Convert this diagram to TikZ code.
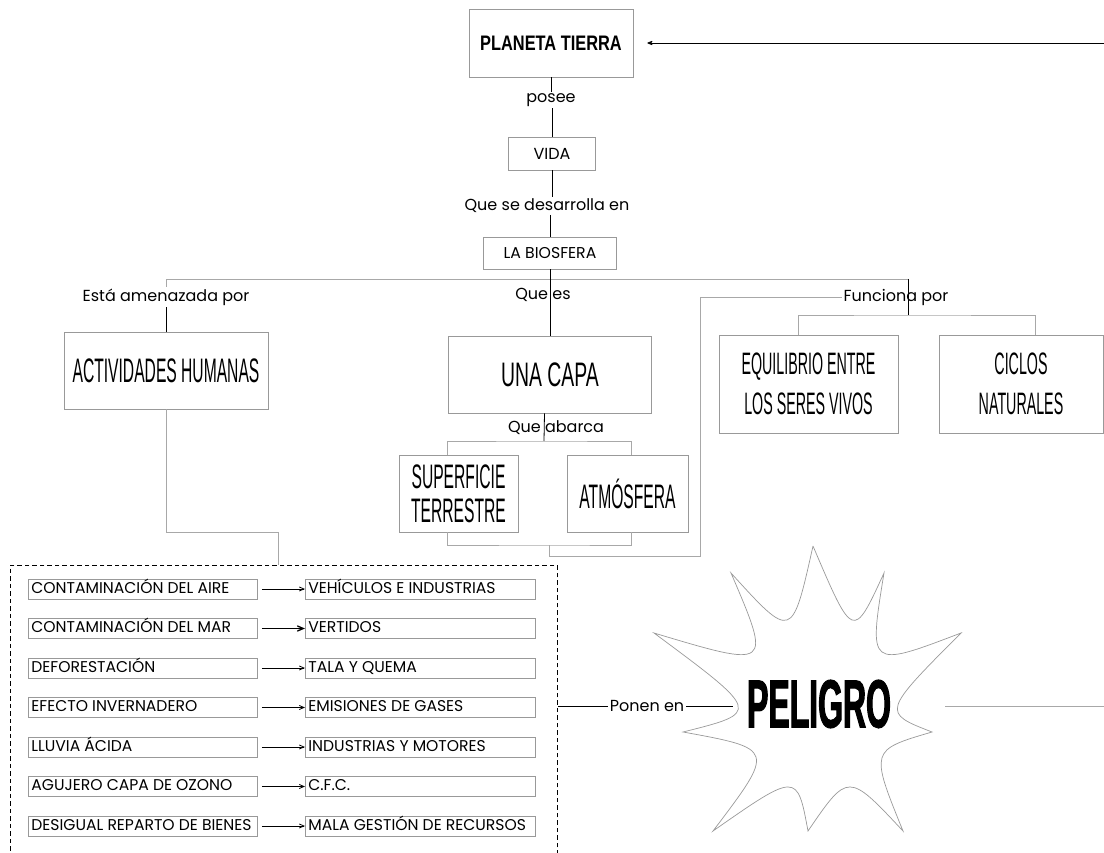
\documentclass[tikz,border=0pt]{standalone}
\usepackage{fontspec}
\usepackage{tikz}
\usetikzlibrary{arrows}
\usetikzlibrary{calc}
\setmainfont{Poppins}
\newfontfamily\condfont[FakeStretch=0.46]{Liberation Sans}
\newfontfamily\capafont[FakeStretch=0.57]{Liberation Sans}
\newfontfamily\titlefont[FakeStretch=0.78]{Liberation Sans}
\newfontfamily\bigfont[FakeStretch=0.47,FakeBold=1.5]{Liberation Sans}
\definecolor{mgray}{rgb}{0.6, 0.6, 0.6}
\definecolor{lgray}{rgb}{0.66, 0.66, 0.66}
\tikzset{box/.style = {draw = mgray, line width = 0.8pt, align = center, inner sep = 0}}
\tikzset{big/.style = {box, font = \condfont\fontsize{34}{34}\selectfont}}
\tikzset{lbl/.style = {font = \fontsize{16}{19}\selectfont, inner sep = 1.5pt}}
\tikzset{item/.style = {draw = mgray, line width = 0.8pt, anchor = west, inner xsep = 3pt, inner ysep = 0pt,
    text height = 11.5pt, text depth = 3pt, minimum height = 20pt,
    font = \fontsize{15.6}{18}\selectfont}}
\tikzset{link/.style = {lgray, line width = 0.8pt}}

\begin{document}
\begin{tikzpicture}[x=1pt, y=-1pt, line width=0.8pt]
    \clip (0, 0) rectangle (1104, 853);
    % chain at the top
    \node [box, minimum width=164pt, minimum height=68pt, font={\titlefont\bfseries\fontsize{21}{25}\selectfont}] (planeta) at (551, 43) {PLANETA TIERRA};
    \node [lbl] (posee) at (551, 100) {posee};
    \node [box, minimum width=87pt, minimum height=33pt, font=\fontsize{16}{19}\selectfont] (vida) at (552, 153.5) {VIDA};
    \node [lbl] (desarrolla) at (547, 206) {Que se desarrolla en};
    \node [box, minimum width=133pt, minimum height=32pt, font=\fontsize{15.7}{19}\selectfont] (biosfera) at (550, 253) {LA BIOSFERA};
    \draw (planeta.south) -- (planeta.south |- posee.north);
    \draw (posee.south -| vida.north) -- (vida.north);
    \draw (vida.south) -- (vida.south |- desarrolla.north);
    \draw (desarrolla.south -| biosfera.north) -- (biosfera.north);

    % three branches
    \node [lbl] (amenazada) at (166, 297) {Está amenazada por};
    \node [lbl] (quees) at (543, 295) {Que es};
    \node [lbl] (funciona) at (896, 297) {Funciona por};
    \node [big, minimum width=204pt, minimum height=77pt] (actividades) at (166, 370.5) {ACTIVIDADES HUMANAS};
    \node [big, minimum width=203pt, minimum height=77pt, font={\capafont\fontsize{34}{34}\selectfont}] (capa) at (550, 374.5) {UNA CAPA};
    \node [box, minimum width=179pt, minimum height=98pt, font={\condfont\fontsize{31}{40}\selectfont}] (equilibrio) at (808.5, 384) {EQUILIBRIO ENTRE\\LOS SERES VIVOS};
    \node [box, minimum width=164pt, minimum height=98pt, font={\condfont\fontsize{31}{40}\selectfont}] (ciclos) at (1021, 384) {CICLOS\\NATURALES};
    \coordinate (fork) at (908, 279);
    \coordinate (fork2) at (908, 315);
    \draw [link] (amenazada.north) |- (fork);
    \draw (fork) -- (fork2);
    \draw (amenazada.south) -- (actividades.north);
    \draw (biosfera.south) -- (biosfera.south |- capa.north);
    \draw [link] ([xshift=-10pt]equilibrio.north) |- (fork2) -| ([xshift=14pt]ciclos.north);

    % what the layer covers
    \node [lbl] (abarca) at (556, 428) {Que abarca};
    \node [big, minimum width=119pt, minimum height=77pt] (superficie) at (458.5, 493.5) {SUPERFICIE\\TERRESTRE};
    \node [big, minimum width=121pt, minimum height=77pt] (atmosfera) at (627.5, 493.5) {\raisebox{-4pt}{ATMÓSFERA}};
    \coordinate (abarcafork) at (544, 441);
    \coordinate (capaback) at (549, 545);
    \coordinate (backcorner) at (700, 556);
    \draw ([xshift=-5.5pt]capa.south) -- (abarcafork);
    \draw [link] ([xshift=-11pt]superficie.north) |- (abarcafork) -| ([xshift=3.5pt]atmosfera.north);
    \draw [link] ([xshift=-11pt]superficie.south) |- (capaback) -| ([xshift=3.5pt]atmosfera.south);
    \draw [link] (capaback) |- (backcorner) |- (funciona.west);

    % list of threats
    \node [draw, dashed, dash pattern=on 4.5pt off 3pt, minimum width=547pt, minimum height=305pt, anchor=north west, inner sep=0] (listbox) at (10, 565) {};
    \coordinate (listbend) at (166, 532);
    \draw [link] (actividades.south) -- (listbend) -| (listbox.north -| 278, 0);
    \foreach \i/\w/\cause/\source in {1/0.8/{CONTAMINACIÓN DEL AIRE}/{VEHÍCULOS E INDUSTRIAS},
        2/1.3/{CONTAMINACIÓN DEL MAR}/{VERTIDOS},
        3/0.8/{DEFORESTACIÓN}/{TALA Y QUEMA},
        4/0.8/{EFECTO INVERNADERO}/{EMISIONES DE GASES},
        5/0.8/{LLUVIA ÁCIDA}/{INDUSTRIAS Y MOTORES},
        6/0.8/{AGUJERO CAPA DE OZONO}/{C.F.C.},
        7/0.8/{DESIGUAL REPARTO DE BIENES}/{MALA GESTIÓN DE RECURSOS}}{
      \node [item] (c\i) at (28, {549.5 + 39.5*\i}) {\makebox[223pt][l]{\cause}};
      \node [item] (r\i) at (305, {549.5 + 39.5*\i}) {\makebox[224pt][l]{\source}};
      \draw [-angle 45, line width=\w pt, shorten <=4pt] (c\i) -- (r\i);
    }

    % danger
    \coordinate (t0) at (813, 546);
    \coordinate (t1) at (884, 573);
    \coordinate (t2) at (961, 633);
    \coordinate (t3) at (932, 732);
    \coordinate (t4) at (903, 831);
    \coordinate (t5) at (808, 831);
    \coordinate (t6) at (713, 831);
    \coordinate (t7) at (683, 732);
    \coordinate (t8) at (654, 633);
    \coordinate (t9) at (731, 573);
    \coordinate (v0) at (852, 620);
    \coordinate (v1) at (882, 652);
    \coordinate (v2) at (898, 705);
    \coordinate (v3) at (882, 758);
    \coordinate (v4) at (850, 787);
    \coordinate (v5) at (788, 787);
    \coordinate (v6) at (756, 757);
    \coordinate (v7) at (738, 705);
    \coordinate (v8) at (752, 652);
    \coordinate (v9) at (787, 620);
    \draw [mgray, line width=0.7pt] (t0)
      \foreach \a/\b in {0/1,1/2,2/3,3/4,4/5,5/6,6/7,7/8,8/9,9/0}{
        .. controls ($1.3333*(v\a) - 0.16667*(t\a) - 0.16667*(t\b)$) .. (t\b)
      };
    \node [font={\bigfont\bfseries\fontsize{68}{68}\selectfont}, inner sep=0] (peligro) at (819, 704) {PELIGRO};
    \node [lbl] (ponen) at (647, 706) {Ponen en};
    \coordinate (starw) at (733, 706);
    \coordinate (stare) at (945, 706);
    \coordinate (rimlow) at (1120, 706);
    \coordinate (rimtop) at (1120, 43);
    \draw (listbox.east |- ponen) -- (ponen);
    \draw (ponen) -- (starw);
    \draw [link] (stare) -- (rimlow);
    \draw (rimlow) -- (rimtop);
    \draw [-stealth'] (rimtop) -- ([xshift=14pt]planeta.east);
\end{tikzpicture}
\end{document}
